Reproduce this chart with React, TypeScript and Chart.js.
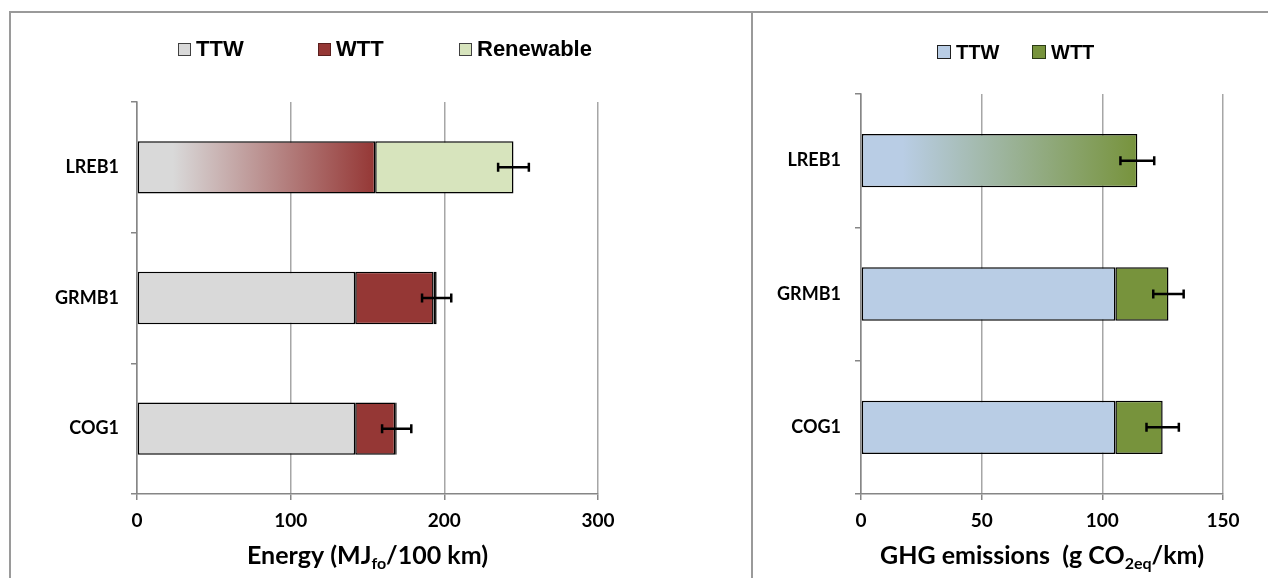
import React, { useEffect, useRef } from 'react';
import { Chart, registerables } from 'chart.js';

Chart.register(...registerables);

// ---------- data ----------
const categories = ['LREB1', 'GRMB1', 'COG1'];
const blendedCategories = ['LREB1'];

const energyTTW = [155, 142, 142];
const energyWTT = [null, 51, 26];
const energyRenewable = [90, 2, 1];
const energyError = [10, 9.5, 9.5];
const energyTicks = [0, 100, 200, 300];

const ghgTTW = [114.5, 105.4, 105.4];
const ghgWTT = [null, 22, 19.6];
const ghgError = [7, 6.3, 6.7];
const ghgTicks = [0, 50, 100, 150];

// ---------- styles ----------
const FONT = 'Lato, "Open Sans", sans-serif';
const LEGEND_FONT = '"Liberation Sans", Arial, sans-serif';
const C_TTW_E = '#d9d9d9';
const C_WTT_E = '#953735';
const C_REN_E = '#d7e4bd';
const C_TTW_G = '#b9cde5';
const C_WTT_G = '#77933c';
const AXIS_GRAY = '#868686';
const GRID_GRAY = '#a6a6a6';

const errorBarPlugin = {
  id: 'errorBars',
  afterDatasetsDraw(chart: any, _args: any, opts: any) {
    const errs: number[] = opts && opts.errors;
    if (!errs) return;
    const xs = chart.scales.x;
    const ys = chart.scales.y;
    const ctx = chart.ctx;
    ctx.save();
    ctx.strokeStyle = '#000';
    ctx.lineWidth = 2.5;
    errs.forEach((e, i) => {
      const total = chart.data.datasets.reduce((s: number, d: any) => s + (d.data[i] ?? 0), 0);
      const y = ys.getPixelForValue(i);
      const xl = xs.getPixelForValue(total - e);
      const xr = xs.getPixelForValue(total + e);
      ctx.beginPath();
      ctx.moveTo(xl, y);
      ctx.lineTo(xr, y);
      ctx.moveTo(xl, y - 4.5);
      ctx.lineTo(xl, y + 4.5);
      ctx.moveTo(xr, y - 4.5);
      ctx.lineTo(xr, y + 4.5);
      ctx.stroke();
    });
    ctx.restore();
  },
};

const axisTitlePlugin = {
  id: 'richAxisTitle',
  afterDraw(chart: any, _args: any, opts: any) {
    const parts: { t: string; sub?: boolean }[] = opts && opts.parts;
    if (!parts) return;
    const ctx = chart.ctx;
    const area = chart.chartArea;
    const mainFont = `bold ${opts.size}px ${FONT}`;
    const subFont = `bold ${opts.subSize}px ${FONT}`;
    ctx.save();
    let total = 0;
    const widths = parts.map((p) => {
      ctx.font = p.sub ? subFont : mainFont;
      const w = ctx.measureText(p.t).width;
      total += w;
      return w;
    });
    let x = (area.left + area.right) / 2 - total / 2;
    const base = area.bottom + opts.offset;
    ctx.fillStyle = '#000';
    ctx.textBaseline = 'alphabetic';
    ctx.textAlign = 'left';
    parts.forEach((p, i) => {
      ctx.font = p.sub ? subFont : mainFont;
      ctx.fillText(p.t, x, p.sub ? base + opts.subShift : base);
      x += widths[i];
    });
    ctx.restore();
  },
};

function gradientFill(from: string, to: string, fallback: string) {
  return (c: any) => {
    if (c.type !== 'data') return fallback;
    if (!blendedCategories.includes(categories[c.dataIndex])) return fallback;
    const chart = c.chart;
    const xs = chart.scales && chart.scales.x;
    if (!xs || !chart.chartArea) return fallback;
    const v = c.raw as number;
    const x0 = xs.getPixelForValue(0);
    const x1 = xs.getPixelForValue(v);
    if (!isFinite(x0) || !isFinite(x1) || x1 <= x0) return fallback;
    const g = chart.ctx.createLinearGradient(x0, 0, x1, 0);
    g.addColorStop(0, from);
    g.addColorStop(0.15, from);
    g.addColorStop(1, to);
    return g;
  };
}

function buildOptions(cfg: {
  ticks: number[];
  yWidth: number;
  top: number;
  right: number;
  xHeight: number;
  yPad: number;
  errors: number[];
  titleParts: { t: string; sub?: boolean }[];
}) {
  const tickFont = { family: FONT, size: 19, weight: 'bold' as const };
  return {
    indexAxis: 'y' as const,
    animation: false as const,
    responsive: false,
    maintainAspectRatio: false,
    layout: { padding: { top: cfg.top, right: cfg.right, bottom: 0, left: 0 } },
    plugins: {
      legend: { display: false },
      tooltip: { enabled: false },
      errorBars: { errors: cfg.errors },
      richAxisTitle: { parts: cfg.titleParts, size: 25, subSize: 16, subShift: 5, offset: 70 },
    },
    scales: {
      x: {
        stacked: true,
        min: cfg.ticks[0],
        max: cfg.ticks[cfg.ticks.length - 1],
        ticks: { stepSize: cfg.ticks[1] - cfg.ticks[0], color: '#000', font: tickFont, padding: 9 },
        grid: { color: GRID_GRAY, lineWidth: 1.5, tickLength: 6, tickColor: AXIS_GRAY },
        border: { color: AXIS_GRAY, width: 1.5 },
        afterFit: (s: any) => {
          s.height = cfg.xHeight;
        },
      },
      y: {
        stacked: true,
        ticks: { color: '#000', font: { family: FONT, size: 18, weight: 'bold' as const }, padding: cfg.yPad },
        grid: { drawOnChartArea: false, offset: true, tickLength: 6, color: AXIS_GRAY, lineWidth: 1.5 },
        border: { color: AXIS_GRAY, width: 1.5 },
        afterFit: (s: any) => {
          s.width = cfg.yWidth;
        },
      },
    },
  };
}

const barCommon = {
  borderColor: '#000',
  borderWidth: 1.5,
  borderSkipped: false as const,
  barPercentage: 0.5,
  categoryPercentage: 0.8,
};

function EnergyChart() {
  const ref = useRef<HTMLCanvasElement>(null);
  useEffect(() => {
    if (!ref.current) return;
    const chart = new Chart(ref.current, {
      type: 'bar',
      data: {
        labels: categories,
        datasets: [
          { label: 'TTW', data: energyTTW, backgroundColor: gradientFill(C_TTW_E, C_WTT_E, C_TTW_E), ...barCommon },
          { label: 'WTT', data: energyWTT, backgroundColor: C_WTT_E, ...barCommon },
          { label: 'Renewable', data: energyRenewable, backgroundColor: C_REN_E, ...barCommon },
        ],
      } as any,
      options: buildOptions({
        ticks: energyTicks,
        yWidth: 127,
        top: 90,
        right: 152,
        xHeight: 84,
        yPad: 12,
        errors: energyError,
        titleParts: [{ t: 'Energy (MJ' }, { t: 'fo', sub: true }, { t: '/100 km)' }],
      }) as any,
      plugins: [errorBarPlugin, axisTitlePlugin],
    });
    return () => chart.destroy();
  }, []);
  return <canvas ref={ref} width={740} height={566} style={{ position: 'absolute', left: 2, top: 4, width: 740, height: 566 }} />;
}

function GhgChart() {
  const ref = useRef<HTMLCanvasElement>(null);
  useEffect(() => {
    if (!ref.current) return;
    const chart = new Chart(ref.current, {
      type: 'bar',
      data: {
        labels: categories,
        datasets: [
          { label: 'TTW', data: ghgTTW, backgroundColor: gradientFill(C_TTW_G, C_WTT_G, C_TTW_G), ...barCommon },
          { label: 'WTT', data: ghgWTT, backgroundColor: C_WTT_G, ...barCommon },
        ],
      } as any,
      options: buildOptions({
        ticks: ghgTicks,
        yWidth: 109,
        top: 82,
        right: 53,
        xHeight: 84,
        yPad: 14,
        errors: ghgError,
        titleParts: [{ t: 'GHG emissions  (g CO' }, { t: '2eq', sub: true }, { t: '/km)' }],
      }) as any,
      plugins: [errorBarPlugin, axisTitlePlugin],
    });
    return () => chart.destroy();
  }, []);
  return <canvas ref={ref} width={524} height={566} style={{ position: 'absolute', left: 744, top: 4, width: 524, height: 566 }} />;
}

function LegendItem(props: { left: number; top: number; color: string; border: string; label: string; size: number; box: number }) {
  return (
    <div
      style={{
        position: 'absolute',
        left: props.left,
        top: props.top,
        display: 'flex',
        alignItems: 'center',
        fontFamily: LEGEND_FONT,
        fontWeight: 'bold',
        fontSize: props.size,
        lineHeight: '1',
        whiteSpace: 'nowrap',
        color: '#000',
      }}
    >
      <span
        style={{
          display: 'inline-block',
          width: props.box,
          height: props.box,
          boxSizing: 'border-box',
          background: props.color,
          border: `1.5px solid ${props.border}`,
          marginRight: 5,
        }}
      />
      <span>{props.label}</span>
    </div>
  );
}

export default function App() {
  return (
    <div style={{ position: 'relative', width: 1268, height: 570, overflow: 'hidden' }}>
      <div
        style={{
          position: 'absolute',
          left: 1,
          top: 3,
          width: 740,
          height: 620,
          borderTop: '2px solid #9a9a9a',
          borderLeft: '2px solid #9a9a9a',
          borderRight: '2px solid #9a9a9a',
        }}
      />
      <div
        style={{
          position: 'absolute',
          left: 743,
          top: 3,
          width: 600,
          height: 620,
          borderTop: '2px solid #9a9a9a',
        }}
      />
      <EnergyChart />
      <GhgChart />
      <LegendItem left={170} top={30} color={C_TTW_E} border="#404040" label="TTW" size={22} box={13} />
      <LegendItem left={310} top={30} color={C_WTT_E} border="#5a1f1e" label="WTT" size={22} box={13} />
      <LegendItem left={451} top={30} color={C_REN_E} border="#404040" label="Renewable" size={22} box={13} />
      <LegendItem left={929} top={34} color={C_TTW_G} border="#202020" label="TTW" size={20} box={14} />
      <LegendItem left={1024} top={34} color={C_WTT_G} border="#2a3a15" label="WTT" size={20} box={14} />
    </div>
  );
}
